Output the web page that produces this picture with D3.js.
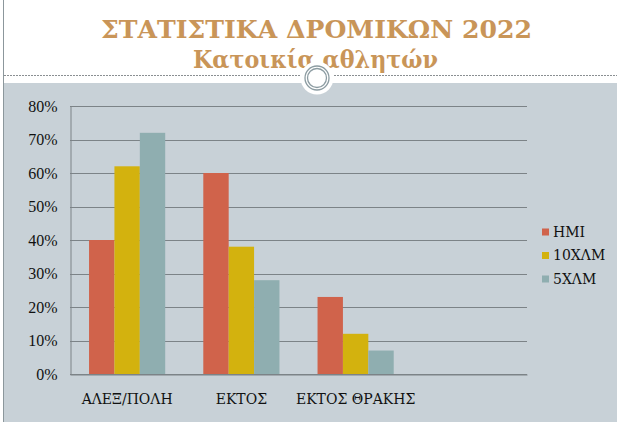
<!DOCTYPE html>
<html>
<head>
<meta charset="utf-8">
<script src="https://cdn.jsdelivr.net/npm/d3@7"></script>
<style>
  html, body { margin: 0; padding: 0; background: #ffffff; }
  svg { display: block; }
</style>
</head>
<body>
<svg id="chart" width="617" height="422"></svg>
<script>
const titleLines = ["ΣΤΑΤΙΣΤΙΚΑ ΔΡΟΜΙΚΩΝ 2022", "Κατοικία αθλητών"];
const categories = ["ΑΛΕΞ/ΠΟΛΗ", "ΕΚΤΟΣ", "ΕΚΤΟΣ ΘΡΑΚΗΣ"];
const seriesNames = ["HMI", "10ΧΛΜ", "5ΧΛΜ"];
const hmi = [0.40, 0.60, 0.23];
const x10 = [0.62, 0.38, 0.12];
const x5 = [0.72, 0.28, 0.07];
const colors = ["#D0634B", "#D3B20E", "#8FAEB0"];
const yTicks = [0, 0.1, 0.2, 0.3, 0.4, 0.5, 0.6, 0.7, 0.8];

const seriesValues = [hmi, x10, x5];
const W = 617, H = 422;
const svg = d3.select("#chart");
const serif = "'DejaVu Serif', serif";

// background panel
svg.append("rect").attr("x", 4).attr("y", 83).attr("width", W - 4).attr("height", H - 83).attr("fill", "#C8D1D7");
svg.append("line").attr("x1", 3.5).attr("x2", 3.5).attr("y1", 0).attr("y2", H)
  .attr("stroke", "#8C979C").attr("stroke-width", 1);
svg.append("line").attr("x1", 4).attr("x2", W).attr("y1", 75.5).attr("y2", 75.5)
  .attr("stroke", "#8A8F92").attr("stroke-width", 1).attr("stroke-dasharray", "2,1");

// title
const titleColor = "#C99558";
svg.append("text").attr("x", 316.5).attr("y", 38).attr("text-anchor", "middle")
  .attr("font-family", serif).attr("font-weight", "bold").attr("font-size", 25)
  .attr("fill", titleColor).attr("textLength", 431).attr("lengthAdjust", "spacingAndGlyphs")
  .text(titleLines[0]);
svg.append("text").attr("x", 315.5).attr("y", 68).attr("text-anchor", "middle")
  .attr("font-family", serif).attr("font-weight", "bold").attr("font-size", 25)
  .attr("fill", titleColor).attr("textLength", 245).attr("lengthAdjust", "spacingAndGlyphs")
  .text(titleLines[1]);

// decorative circle
svg.append("circle").attr("cx", 317).attr("cy", 78).attr("r", 16.5).attr("fill", "#ffffff");
svg.append("circle").attr("cx", 317).attr("cy", 78).attr("r", 12).attr("fill", "none")
  .attr("stroke", "#8C9CA2").attr("stroke-width", 1.3);
svg.append("circle").attr("cx", 317).attr("cy", 78).attr("r", 9.5).attr("fill", "none")
  .attr("stroke", "#8C9CA2").attr("stroke-width", 1.3);

// scales
const slots = [...categories, " "];
const x = d3.scaleBand().domain(slots).range([70, 527]).paddingInner(0).paddingOuter(0);
const xs = d3.scaleBand().domain(seriesNames).range([0, x.bandwidth()]).paddingInner(0).paddingOuter(0.75);
const y = d3.scaleLinear().domain([0, 0.8]).range([374, 106]);

// grid
const grid = svg.append("g");
grid.selectAll("line").data(yTicks).join("line")
  .attr("x1", 70).attr("x2", 527)
  .attr("y1", d => Math.round(y(d)) + 0.5).attr("y2", d => Math.round(y(d)) + 0.5)
  .attr("stroke", "#7C8387").attr("stroke-width", 1);

// y axis
const yAxis = d3.axisLeft(y).tickValues(yTicks).tickFormat(d3.format(".0%")).tickSize(0).tickPadding(13);
const yg = svg.append("g").attr("transform", "translate(70.5,0)").call(yAxis);
yg.attr("font-family", null).attr("font-size", null);
yg.select(".domain").attr("stroke", "#7C8387");
yg.selectAll("text").attr("font-family", "'Liberation Serif', serif").attr("font-size", 16).attr("fill", "#111");

// bars
const groups = svg.append("g").selectAll("g").data(categories).join("g")
  .attr("transform", d => `translate(${x(d)},0)`);
groups.selectAll("rect").data((c, i) => seriesNames.map((s, k) => ({ s, k, v: seriesValues[k][i] })))
  .join("rect")
  .attr("x", d => xs(d.s)).attr("width", xs.bandwidth())
  .attr("y", d => y(d.v)).attr("height", d => y(0) - y(d.v))
  .attr("fill", d => colors[d.k]);

// x axis
const xAxis = d3.axisBottom(x).tickValues(categories).tickSize(0).tickPadding(20);
const xg = svg.append("g").attr("transform", "translate(0,374.5)").call(xAxis);
xg.attr("font-family", null).attr("font-size", null);
xg.select(".domain").attr("stroke", "#7C8387");
xg.selectAll("text").attr("font-family", serif).attr("font-size", 14).attr("fill", "#111");

// legend
const legend = svg.append("g").selectAll("g").data(seriesNames).join("g")
  .attr("transform", (d, i) => `translate(542,${232 + i * 23.5})`);
legend.append("rect").attr("x", 0).attr("y", -3.5).attr("width", 7).attr("height", 7)
  .attr("fill", (d, i) => colors[i]);
legend.append("text").attr("x", 11).attr("y", 0).attr("dy", "0.35em")
  .attr("font-family", serif).attr("font-size", 14).attr("fill", "#111")
  .text(d => d);
</script>
</body>
</html>
